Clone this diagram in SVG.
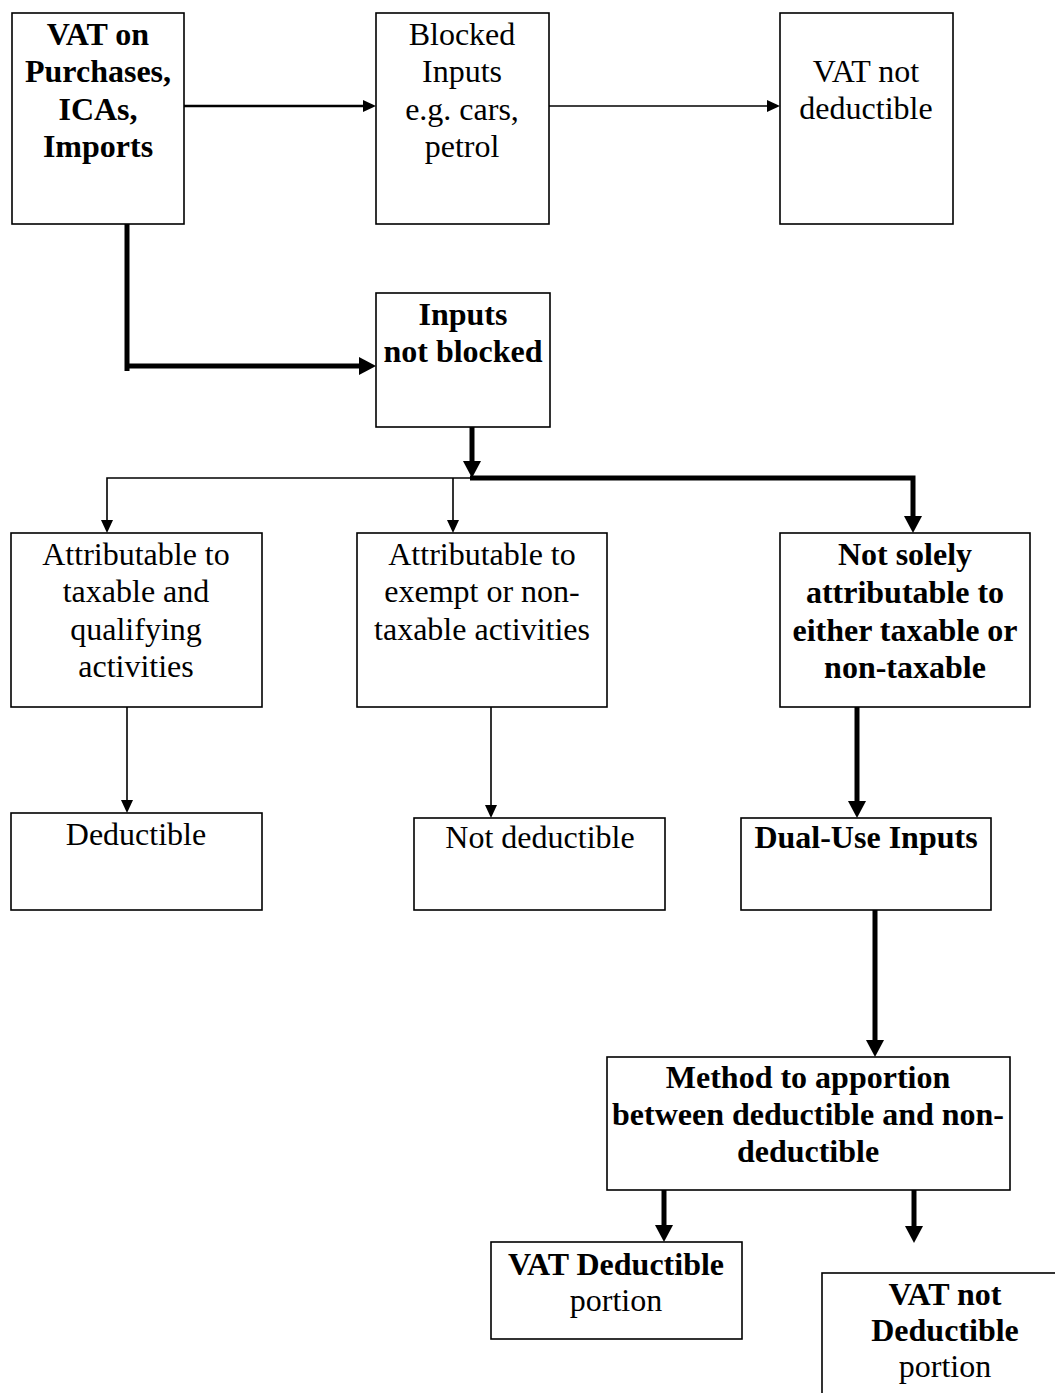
<svg xmlns="http://www.w3.org/2000/svg" width="1055" height="1393" viewBox="0 0 1055 1393">
<style>
.box{fill:#fff;stroke:#000;stroke-width:1.6}
.t{font-family:"Liberation Serif","Times New Roman",serif;font-size:32px;text-anchor:middle;fill:#000}
.b{font-weight:bold}
.thin{fill:none;stroke:#000;stroke-width:1.6}
.mid{fill:none;stroke:#000;stroke-width:2.6}
.thick{fill:none;stroke:#000;stroke-width:5}
</style>
<defs>
<marker id="ah" markerUnits="userSpaceOnUse" markerWidth="14" markerHeight="14" refX="0" refY="6" orient="auto" overflow="visible">
<path d="M0,0 L13,6 L0,12 z" fill="#000"/>
</marker>
<marker id="ahk" markerUnits="userSpaceOnUse" markerWidth="18" markerHeight="20" refX="0" refY="9" orient="auto" overflow="visible">
<path d="M0,0 L17,9 L0,18 z" fill="#000"/>
</marker>
</defs>
<rect width="1055" height="1393" fill="#fff"/>
<g id="connectors">
<path class="mid" d="M184,106 H363" marker-end="url(#ah)"/>
<path class="thin" d="M549,106 H767" marker-end="url(#ah)"/>
<path class="thick" d="M127,219 V371"/>
<path class="thick" d="M125,366 H359" marker-end="url(#ahk)"/>
<path class="thick" d="M472,423 V461" marker-end="url(#ahk)"/>
<path class="thick" d="M470,478 H913 V516" stroke-linejoin="miter" marker-end="url(#ahk)"/>
<path class="thin" d="M472,478 H107 V520" marker-end="url(#ah)"/>
<path class="thin" d="M453,478 V520" marker-end="url(#ah)"/>
<path class="thin" d="M127,707 V800" marker-end="url(#ah)"/>
<path class="thin" d="M491,707 V805" marker-end="url(#ah)"/>
<path class="thick" d="M857,707 V801" marker-end="url(#ahk)"/>
<path class="thick" d="M875,908 V1040" marker-end="url(#ahk)"/>
<path class="thick" d="M664,1187 V1225" marker-end="url(#ahk)"/>
<path class="thick" d="M914,1187 V1226" marker-end="url(#ahk)"/>
</g>
<g id="vat-on-purchases">
<rect class="box" x="12" y="13" width="172" height="211"/>
<text class="t b" x="98" y="45">VAT on</text>
<text class="t b" x="98" y="82">Purchases,</text>
<text class="t b" x="98" y="120">ICAs,</text>
<text class="t b" x="98" y="157">Imports</text>
</g>
<g id="blocked-inputs">
<rect class="box" x="376" y="13" width="173" height="211"/>
<text class="t" x="462" y="45">Blocked</text>
<text class="t" x="462" y="82">Inputs</text>
<text class="t" x="462" y="120">e.g. cars,</text>
<text class="t" x="462" y="157">petrol</text>
</g>
<g id="vat-not-deductible">
<rect class="box" x="780" y="13" width="173" height="211"/>
<text class="t" x="866" y="82">VAT not</text>
<text class="t" x="866" y="119">deductible</text>
</g>
<g id="inputs-not-blocked">
<rect class="box" x="376" y="293" width="174" height="134"/>
<text class="t b" x="463" y="325">Inputs</text>
<text class="t b" x="463" y="362">not blocked</text>
</g>
<g id="attr-taxable">
<rect class="box" x="11" y="533" width="251" height="174"/>
<text class="t" x="136" y="565">Attributable to</text>
<text class="t" x="136" y="602">taxable and</text>
<text class="t" x="136" y="640">qualifying</text>
<text class="t" x="136" y="677">activities</text>
</g>
<g id="attr-exempt">
<rect class="box" x="357" y="533" width="250" height="174"/>
<text class="t" x="482" y="565">Attributable to</text>
<text class="t" x="482" y="602">exempt or non-</text>
<text class="t" x="482" y="640">taxable activities</text>
</g>
<g id="not-solely">
<rect class="box" x="780" y="533" width="250" height="174"/>
<text class="t b" x="905" y="565">Not solely</text>
<text class="t b" x="905" y="603">attributable to</text>
<text class="t b" x="905" y="641">either taxable or</text>
<text class="t b" x="905" y="678">non-taxable</text>
</g>
<g id="deductible">
<rect class="box" x="11" y="813" width="251" height="97"/>
<text class="t" x="136" y="845">Deductible</text>
</g>
<g id="not-deductible">
<rect class="box" x="414" y="818" width="251" height="92"/>
<text class="t" x="540" y="848">Not deductible</text>
</g>
<g id="dual-use">
<rect class="box" x="741" y="818" width="250" height="92"/>
<text class="t b" x="866" y="848">Dual-Use Inputs</text>
</g>
<g id="method">
<rect class="box" x="607" y="1057" width="403" height="133"/>
<text class="t b" x="808" y="1088">Method to apportion</text>
<text class="t b" x="808" y="1125">between deductible and non-</text>
<text class="t b" x="808" y="1162">deductible</text>
</g>
<g id="vat-deductible-portion">
<rect class="box" x="491" y="1242" width="251" height="97"/>
<text class="t b" x="616" y="1275">VAT Deductible</text>
<text class="t" x="616" y="1311">portion</text>
</g>
<g id="vat-not-deductible-portion">
<rect class="box" x="822" y="1273" width="253" height="140"/>
<text class="t b" x="945" y="1305">VAT not</text>
<text class="t b" x="945" y="1341">Deductible</text>
<text class="t" x="945" y="1377">portion</text>
</g>
</svg>
